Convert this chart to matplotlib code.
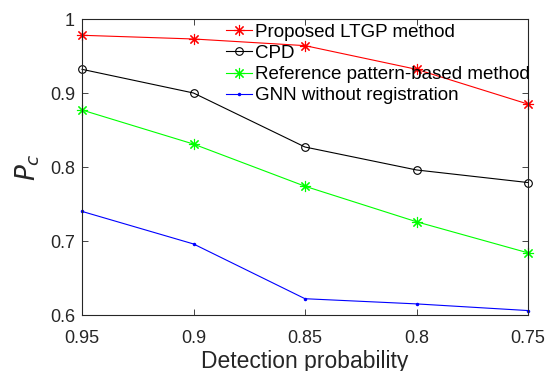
import matplotlib
matplotlib.use("Agg")
import matplotlib.pyplot as plt

plt.rcParams['font.family'] = ['Liberation Sans', 'DejaVu Sans']

detection_prob = [0.95, 0.9, 0.85, 0.8, 0.75]
ltgp = [0.978, 0.973, 0.964, 0.932, 0.885]
cpd = [0.932, 0.900, 0.827, 0.796, 0.779]
ref_pattern = [0.877, 0.831, 0.774, 0.726, 0.684]
gnn_noreg = [0.740, 0.696, 0.622, 0.615, 0.606]

series_labels = ["Proposed LTGP method", "CPD",
                 "Reference pattern-based method", "GNN without registration"]

fig = plt.figure(figsize=(5.47, 3.71), dpi=100)
ax = fig.add_axes([82 / 547, 56 / 371, 446 / 547, 296 / 371])

lw = 0.8
star = (8, 2, 0)
ax.plot(detection_prob, ltgp, color='#ff0000', lw=lw, marker=star, ms=8,
        mew=0.8, label=series_labels[0], clip_on=False)
ax.plot(detection_prob, cpd, color='#000000', lw=lw, marker='o', ms=5.5,
        mfc='none', mew=0.8, label=series_labels[1], clip_on=False)
ax.plot(detection_prob, ref_pattern, color='#00ff00', lw=lw, marker=star, ms=8,
        mew=0.8, label=series_labels[2], clip_on=False)
ax.plot(detection_prob, gnn_noreg, color='#0000ff', lw=lw, marker='.', ms=3,
        label=series_labels[3], clip_on=False)

ax.set_xlim(0.95, 0.75)
ax.set_ylim(0.6, 1.0)
ax.set_xticks(detection_prob)
ax.set_xticklabels(['0.95', '0.9', '0.85', '0.8', '0.75'])
ax.set_yticks([0.6, 0.7, 0.8, 0.9, 1.0])
ax.set_yticklabels(['0.6', '0.7', '0.8', '0.9', '1'])

spine_col = '#262626'
for s in ax.spines.values():
    s.set_color(spine_col)
    s.set_linewidth(0.8)
ax.tick_params(axis='both', which='both', direction='in', length=4,
               width=0.6, color=spine_col, labelcolor=spine_col,
               labelsize=13, top=True, right=True, pad=5)
ax.tick_params(axis='x', pad=11)

ax.set_xlabel('Detection probability', fontsize=16.5, color='#262626', labelpad=2)
ax.set_ylabel(r'$\mathit{P}_c$', fontsize=19, color='#262626', labelpad=6)

leg = ax.legend(loc='upper left', bbox_to_anchor=(0.322, 0.985), frameon=False,
                fontsize=13.5, handlelength=1.4, handletextpad=0.15,
                labelspacing=0.22, borderpad=0, borderaxespad=0)
for t in leg.get_texts():
    t.set_color('#000000')

fig.savefig('out.png', dpi=100)
